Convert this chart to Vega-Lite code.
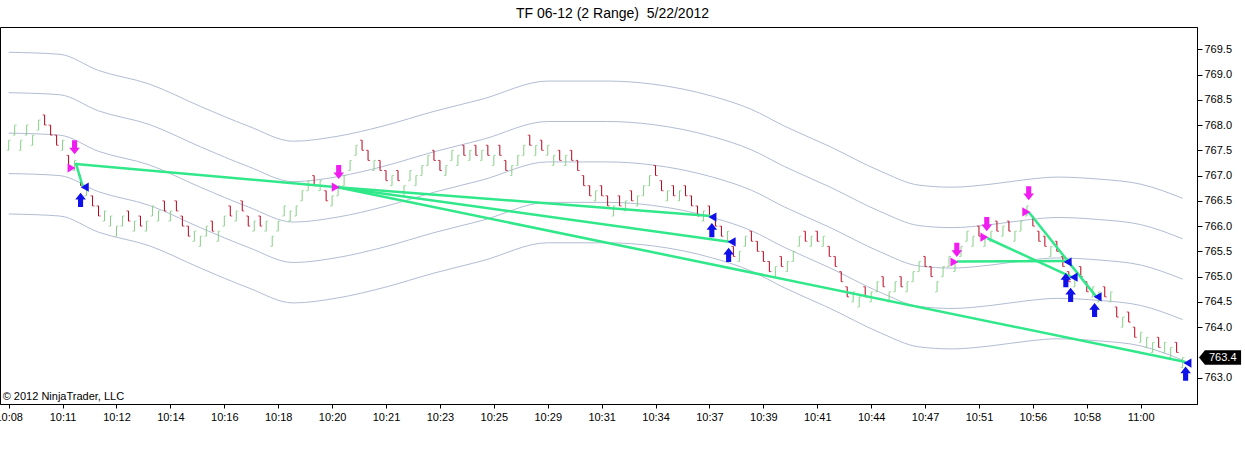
{
  "$schema": "https://vega.github.io/schema/vega-lite/v6.json",
  "width": 1197,
  "height": 377,
  "autosize": {"type": "none"},
  "padding": {"left": 0, "top": 27, "right": 48, "bottom": 47},
  "background": "#ffffff",
  "title": {
    "text": "TF 06-12 (2 Range)\u00a0 5/22/2012",
    "font": "Liberation Sans",
    "fontSize": 14,
    "fontWeight": "normal",
    "color": "#000000",
    "anchor": "middle",
    "offset": 6,
    "dx": 14
  },
  "config": {
    "view": {"stroke": "#000000", "strokeWidth": 1},
    "font": "Liberation Sans",
    "axis": {
      "labelFont": "Liberation Sans",
      "labelFontSize": 11,
      "labelColor": "#000000",
      "domainColor": "#000000",
      "tickColor": "#000000",
      "grid": false,
      "title": null
    },
    "axisY": {"labelOverlap": false}
  },
  "datasets": {
    "bands": [
      {"i": 0, "u2": 769.44, "u1": 768.64, "m": 767.84, "d1": 767.04, "d2": 766.24},
      {"i": 8.5, "u2": 769.40, "u1": 768.60, "m": 767.80, "d1": 767.00, "d2": 766.20},
      {"i": 15, "u2": 769.08, "u1": 768.28, "m": 767.48, "d1": 766.68, "d2": 765.88},
      {"i": 23.5, "u2": 768.81, "u1": 768.01, "m": 767.21, "d1": 766.41, "d2": 765.61},
      {"i": 32, "u2": 768.37, "u1": 767.57, "m": 766.77, "d1": 765.97, "d2": 765.17},
      {"i": 40, "u2": 767.98, "u1": 767.18, "m": 766.38, "d1": 765.58, "d2": 764.78},
      {"i": 47.5, "u2": 767.68, "u1": 766.88, "m": 766.08, "d1": 765.28, "d2": 764.48},
      {"i": 55, "u2": 767.78, "u1": 766.98, "m": 766.18, "d1": 765.38, "d2": 764.58},
      {"i": 62.5, "u2": 767.98, "u1": 767.18, "m": 766.38, "d1": 765.58, "d2": 764.78},
      {"i": 71, "u2": 768.27, "u1": 767.47, "m": 766.67, "d1": 765.87, "d2": 765.07},
      {"i": 79, "u2": 768.51, "u1": 767.71, "m": 766.91, "d1": 766.11, "d2": 765.31},
      {"i": 90, "u2": 768.87, "u1": 768.07, "m": 767.27, "d1": 766.47, "d2": 765.67},
      {"i": 100, "u2": 768.87, "u1": 768.07, "m": 767.27, "d1": 766.47, "d2": 765.67},
      {"i": 107.5, "u2": 768.81, "u1": 768.01, "m": 767.21, "d1": 766.41, "d2": 765.61},
      {"i": 117.5, "u2": 768.57, "u1": 767.77, "m": 766.97, "d1": 766.17, "d2": 765.37},
      {"i": 124, "u2": 768.31, "u1": 767.51, "m": 766.71, "d1": 765.91, "d2": 765.11},
      {"i": 129.5, "u2": 767.98, "u1": 767.18, "m": 766.38, "d1": 765.58, "d2": 764.78},
      {"i": 137, "u2": 767.58, "u1": 766.78, "m": 765.98, "d1": 765.18, "d2": 764.38},
      {"i": 145.5, "u2": 767.09, "u1": 766.29, "m": 765.49, "d1": 764.69, "d2": 763.89},
      {"i": 152, "u2": 766.81, "u1": 766.01, "m": 765.21, "d1": 764.41, "d2": 763.61},
      {"i": 157.5, "u2": 766.77, "u1": 765.97, "m": 765.17, "d1": 764.37, "d2": 763.57},
      {"i": 164, "u2": 766.83, "u1": 766.03, "m": 765.23, "d1": 764.43, "d2": 763.63},
      {"i": 170.5, "u2": 766.93, "u1": 766.13, "m": 765.33, "d1": 764.53, "d2": 763.73},
      {"i": 175, "u2": 766.97, "u1": 766.17, "m": 765.37, "d1": 764.57, "d2": 763.77},
      {"i": 182, "u2": 766.93, "u1": 766.13, "m": 765.33, "d1": 764.53, "d2": 763.73},
      {"i": 189, "u2": 766.83, "u1": 766.03, "m": 765.23, "d1": 764.43, "d2": 763.63},
      {"i": 196, "u2": 766.55, "u1": 765.75, "m": 764.95, "d1": 764.15, "d2": 763.35}
    ],
    "bars": [
      {"i": 0, "o": 767.5, "h": 767.7, "l": 767.5, "c": 767.7, "d": "u"},
      {"i": 1, "o": 767.8, "h": 768.0, "l": 767.8, "c": 768.0, "d": "u"},
      {"i": 2, "o": 767.5, "h": 767.7, "l": 767.5, "c": 767.7, "d": "u"},
      {"i": 3, "o": 767.8, "h": 768.0, "l": 767.8, "c": 768.0, "d": "u"},
      {"i": 4, "o": 767.6, "h": 767.8, "l": 767.6, "c": 767.8, "d": "u"},
      {"i": 5, "o": 767.9, "h": 768.1, "l": 767.9, "c": 768.1, "d": "u"},
      {"i": 6, "o": 768.2, "h": 768.2, "l": 768.0, "c": 768.0, "d": "d"},
      {"i": 7, "o": 768.0, "h": 768.0, "l": 767.8, "c": 767.8, "d": "d"},
      {"i": 8, "o": 767.8, "h": 767.8, "l": 767.6, "c": 767.6, "d": "d"},
      {"i": 9, "o": 767.5, "h": 767.7, "l": 767.5, "c": 767.7, "d": "u"},
      {"i": 10, "o": 767.4, "h": 767.4, "l": 767.2, "c": 767.2, "d": "d"},
      {"i": 11, "o": 767.1, "h": 767.3, "l": 767.1, "c": 767.3, "d": "u"},
      {"i": 12, "o": 767.0, "h": 767.0, "l": 766.8, "c": 766.8, "d": "d"},
      {"i": 13, "o": 766.6, "h": 766.8, "l": 766.6, "c": 766.8, "d": "u"},
      {"i": 14, "o": 766.6, "h": 766.6, "l": 766.4, "c": 766.4, "d": "d"},
      {"i": 15, "o": 766.4, "h": 766.4, "l": 766.2, "c": 766.2, "d": "d"},
      {"i": 16, "o": 766.1, "h": 766.3, "l": 766.1, "c": 766.3, "d": "u"},
      {"i": 17, "o": 766.0, "h": 766.2, "l": 766.0, "c": 766.2, "d": "u"},
      {"i": 18, "o": 765.8, "h": 766.0, "l": 765.8, "c": 766.0, "d": "u"},
      {"i": 19, "o": 766.0, "h": 766.2, "l": 766.0, "c": 766.2, "d": "u"},
      {"i": 20, "o": 766.3, "h": 766.3, "l": 766.1, "c": 766.1, "d": "d"},
      {"i": 21, "o": 765.9, "h": 766.1, "l": 765.9, "c": 766.1, "d": "u"},
      {"i": 22, "o": 766.2, "h": 766.2, "l": 766.0, "c": 766.0, "d": "d"},
      {"i": 23, "o": 765.9, "h": 766.1, "l": 765.9, "c": 766.1, "d": "u"},
      {"i": 24, "o": 766.2, "h": 766.4, "l": 766.2, "c": 766.4, "d": "u"},
      {"i": 25, "o": 766.1, "h": 766.3, "l": 766.1, "c": 766.3, "d": "u"},
      {"i": 26, "o": 766.5, "h": 766.5, "l": 766.3, "c": 766.3, "d": "d"},
      {"i": 27, "o": 766.1, "h": 766.3, "l": 766.1, "c": 766.3, "d": "u"},
      {"i": 28, "o": 766.5, "h": 766.5, "l": 766.3, "c": 766.3, "d": "d"},
      {"i": 29, "o": 766.2, "h": 766.2, "l": 766.0, "c": 766.0, "d": "d"},
      {"i": 30, "o": 766.0, "h": 766.0, "l": 765.8, "c": 765.8, "d": "d"},
      {"i": 31, "o": 765.7, "h": 765.9, "l": 765.7, "c": 765.9, "d": "u"},
      {"i": 32, "o": 765.6, "h": 765.8, "l": 765.6, "c": 765.8, "d": "u"},
      {"i": 33, "o": 765.8, "h": 766.0, "l": 765.8, "c": 766.0, "d": "u"},
      {"i": 34, "o": 766.1, "h": 766.1, "l": 765.9, "c": 765.9, "d": "d"},
      {"i": 35, "o": 765.7, "h": 765.9, "l": 765.7, "c": 765.9, "d": "u"},
      {"i": 36, "o": 766.0, "h": 766.2, "l": 766.0, "c": 766.2, "d": "u"},
      {"i": 37, "o": 766.4, "h": 766.4, "l": 766.2, "c": 766.2, "d": "d"},
      {"i": 38, "o": 766.1, "h": 766.3, "l": 766.1, "c": 766.3, "d": "u"},
      {"i": 39, "o": 766.5, "h": 766.5, "l": 766.3, "c": 766.3, "d": "d"},
      {"i": 40, "o": 766.2, "h": 766.2, "l": 766.0, "c": 766.0, "d": "d"},
      {"i": 41, "o": 765.9, "h": 766.1, "l": 765.9, "c": 766.1, "d": "u"},
      {"i": 42, "o": 766.2, "h": 766.2, "l": 766.0, "c": 766.0, "d": "d"},
      {"i": 43, "o": 765.9, "h": 766.1, "l": 765.9, "c": 766.1, "d": "u"},
      {"i": 44, "o": 765.6, "h": 765.8, "l": 765.6, "c": 765.8, "d": "u"},
      {"i": 45, "o": 765.9, "h": 766.1, "l": 765.9, "c": 766.1, "d": "u"},
      {"i": 46, "o": 766.2, "h": 766.4, "l": 766.2, "c": 766.4, "d": "u"},
      {"i": 47, "o": 766.1, "h": 766.3, "l": 766.1, "c": 766.3, "d": "u"},
      {"i": 48, "o": 766.2, "h": 766.4, "l": 766.2, "c": 766.4, "d": "u"},
      {"i": 49, "o": 766.5, "h": 766.7, "l": 766.5, "c": 766.7, "d": "u"},
      {"i": 50, "o": 766.7, "h": 766.9, "l": 766.7, "c": 766.9, "d": "u"},
      {"i": 51, "o": 767.0, "h": 767.0, "l": 766.8, "c": 766.8, "d": "d"},
      {"i": 52, "o": 766.7, "h": 766.9, "l": 766.7, "c": 766.9, "d": "u"},
      {"i": 53, "o": 766.7, "h": 766.7, "l": 766.5, "c": 766.5, "d": "d"},
      {"i": 54, "o": 766.4, "h": 766.6, "l": 766.4, "c": 766.6, "d": "u"},
      {"i": 55, "o": 766.6, "h": 766.8, "l": 766.6, "c": 766.8, "d": "u"},
      {"i": 56, "o": 766.8, "h": 767.0, "l": 766.8, "c": 767.0, "d": "u"},
      {"i": 57, "o": 767.1, "h": 767.3, "l": 767.1, "c": 767.3, "d": "u"},
      {"i": 58, "o": 767.4, "h": 767.6, "l": 767.4, "c": 767.6, "d": "u"},
      {"i": 59, "o": 767.7, "h": 767.7, "l": 767.5, "c": 767.5, "d": "d"},
      {"i": 60, "o": 767.5, "h": 767.5, "l": 767.3, "c": 767.3, "d": "d"},
      {"i": 61, "o": 767.1, "h": 767.3, "l": 767.1, "c": 767.3, "d": "u"},
      {"i": 62, "o": 767.3, "h": 767.3, "l": 767.1, "c": 767.1, "d": "d"},
      {"i": 63, "o": 767.1, "h": 767.1, "l": 766.9, "c": 766.9, "d": "d"},
      {"i": 64, "o": 766.8, "h": 767.0, "l": 766.8, "c": 767.0, "d": "u"},
      {"i": 65, "o": 767.1, "h": 767.1, "l": 766.9, "c": 766.9, "d": "d"},
      {"i": 66, "o": 766.6, "h": 766.8, "l": 766.6, "c": 766.8, "d": "u"},
      {"i": 67, "o": 766.9, "h": 767.1, "l": 766.9, "c": 767.1, "d": "u"},
      {"i": 68, "o": 766.8, "h": 767.0, "l": 766.8, "c": 767.0, "d": "u"},
      {"i": 69, "o": 767.0, "h": 767.2, "l": 767.0, "c": 767.2, "d": "u"},
      {"i": 70, "o": 767.2, "h": 767.4, "l": 767.2, "c": 767.4, "d": "u"},
      {"i": 71, "o": 767.5, "h": 767.5, "l": 767.3, "c": 767.3, "d": "d"},
      {"i": 72, "o": 767.3, "h": 767.3, "l": 767.1, "c": 767.1, "d": "d"},
      {"i": 73, "o": 767.0, "h": 767.2, "l": 767.0, "c": 767.2, "d": "u"},
      {"i": 74, "o": 767.3, "h": 767.5, "l": 767.3, "c": 767.5, "d": "u"},
      {"i": 75, "o": 767.2, "h": 767.4, "l": 767.2, "c": 767.4, "d": "u"},
      {"i": 76, "o": 767.6, "h": 767.6, "l": 767.4, "c": 767.4, "d": "d"},
      {"i": 77, "o": 767.3, "h": 767.5, "l": 767.3, "c": 767.5, "d": "u"},
      {"i": 78, "o": 767.6, "h": 767.6, "l": 767.4, "c": 767.4, "d": "d"},
      {"i": 79, "o": 767.3, "h": 767.5, "l": 767.3, "c": 767.5, "d": "u"},
      {"i": 80, "o": 767.6, "h": 767.6, "l": 767.4, "c": 767.4, "d": "d"},
      {"i": 81, "o": 767.2, "h": 767.4, "l": 767.2, "c": 767.4, "d": "u"},
      {"i": 82, "o": 767.6, "h": 767.6, "l": 767.4, "c": 767.4, "d": "d"},
      {"i": 83, "o": 767.3, "h": 767.3, "l": 767.1, "c": 767.1, "d": "d"},
      {"i": 84, "o": 767.0, "h": 767.2, "l": 767.0, "c": 767.2, "d": "u"},
      {"i": 85, "o": 767.2, "h": 767.4, "l": 767.2, "c": 767.4, "d": "u"},
      {"i": 86, "o": 767.4, "h": 767.6, "l": 767.4, "c": 767.6, "d": "u"},
      {"i": 87, "o": 767.8, "h": 767.8, "l": 767.6, "c": 767.6, "d": "d"},
      {"i": 88, "o": 767.4, "h": 767.6, "l": 767.4, "c": 767.6, "d": "u"},
      {"i": 89, "o": 767.7, "h": 767.7, "l": 767.5, "c": 767.5, "d": "d"},
      {"i": 90, "o": 767.4, "h": 767.6, "l": 767.4, "c": 767.6, "d": "u"},
      {"i": 91, "o": 767.2, "h": 767.4, "l": 767.2, "c": 767.4, "d": "u"},
      {"i": 92, "o": 767.5, "h": 767.5, "l": 767.3, "c": 767.3, "d": "d"},
      {"i": 93, "o": 767.2, "h": 767.4, "l": 767.2, "c": 767.4, "d": "u"},
      {"i": 94, "o": 767.5, "h": 767.5, "l": 767.3, "c": 767.3, "d": "d"},
      {"i": 95, "o": 767.3, "h": 767.3, "l": 767.1, "c": 767.1, "d": "d"},
      {"i": 96, "o": 767.0, "h": 767.0, "l": 766.8, "c": 766.8, "d": "d"},
      {"i": 97, "o": 766.8, "h": 766.8, "l": 766.6, "c": 766.6, "d": "d"},
      {"i": 98, "o": 766.5, "h": 766.7, "l": 766.5, "c": 766.7, "d": "u"},
      {"i": 99, "o": 766.8, "h": 766.8, "l": 766.6, "c": 766.6, "d": "d"},
      {"i": 100, "o": 766.6, "h": 766.6, "l": 766.4, "c": 766.4, "d": "d"},
      {"i": 101, "o": 766.2, "h": 766.4, "l": 766.2, "c": 766.4, "d": "u"},
      {"i": 102, "o": 766.6, "h": 766.6, "l": 766.4, "c": 766.4, "d": "d"},
      {"i": 103, "o": 766.3, "h": 766.5, "l": 766.3, "c": 766.5, "d": "u"},
      {"i": 104, "o": 766.7, "h": 766.7, "l": 766.5, "c": 766.5, "d": "d"},
      {"i": 105, "o": 766.4, "h": 766.6, "l": 766.4, "c": 766.6, "d": "u"},
      {"i": 106, "o": 766.6, "h": 766.8, "l": 766.6, "c": 766.8, "d": "u"},
      {"i": 107, "o": 766.8, "h": 767.0, "l": 766.8, "c": 767.0, "d": "u"},
      {"i": 108, "o": 767.2, "h": 767.2, "l": 767.0, "c": 767.0, "d": "d"},
      {"i": 109, "o": 766.9, "h": 766.9, "l": 766.7, "c": 766.7, "d": "d"},
      {"i": 110, "o": 766.5, "h": 766.7, "l": 766.5, "c": 766.7, "d": "u"},
      {"i": 111, "o": 766.8, "h": 766.8, "l": 766.6, "c": 766.6, "d": "d"},
      {"i": 112, "o": 766.5, "h": 766.7, "l": 766.5, "c": 766.7, "d": "u"},
      {"i": 113, "o": 766.8, "h": 766.8, "l": 766.6, "c": 766.6, "d": "d"},
      {"i": 114, "o": 766.6, "h": 766.6, "l": 766.4, "c": 766.4, "d": "d"},
      {"i": 115, "o": 766.4, "h": 766.4, "l": 766.2, "c": 766.2, "d": "d"},
      {"i": 116, "o": 766.1, "h": 766.3, "l": 766.1, "c": 766.3, "d": "u"},
      {"i": 117, "o": 766.4, "h": 766.4, "l": 766.2, "c": 766.2, "d": "d"},
      {"i": 118, "o": 766.2, "h": 766.2, "l": 766.0, "c": 766.0, "d": "d"},
      {"i": 119, "o": 766.0, "h": 766.0, "l": 765.8, "c": 765.8, "d": "d"},
      {"i": 120, "o": 765.7, "h": 765.9, "l": 765.7, "c": 765.9, "d": "u"},
      {"i": 121, "o": 765.6, "h": 765.6, "l": 765.4, "c": 765.4, "d": "d"},
      {"i": 122, "o": 765.3, "h": 765.5, "l": 765.3, "c": 765.5, "d": "u"},
      {"i": 123, "o": 765.6, "h": 765.8, "l": 765.6, "c": 765.8, "d": "u"},
      {"i": 124, "o": 765.9, "h": 765.9, "l": 765.7, "c": 765.7, "d": "d"},
      {"i": 125, "o": 765.7, "h": 765.7, "l": 765.5, "c": 765.5, "d": "d"},
      {"i": 126, "o": 765.5, "h": 765.5, "l": 765.3, "c": 765.3, "d": "d"},
      {"i": 127, "o": 765.3, "h": 765.3, "l": 765.1, "c": 765.1, "d": "d"},
      {"i": 128, "o": 765.0, "h": 765.2, "l": 765.0, "c": 765.2, "d": "u"},
      {"i": 129, "o": 765.4, "h": 765.4, "l": 765.2, "c": 765.2, "d": "d"},
      {"i": 130, "o": 765.1, "h": 765.3, "l": 765.1, "c": 765.3, "d": "u"},
      {"i": 131, "o": 765.3, "h": 765.5, "l": 765.3, "c": 765.5, "d": "u"},
      {"i": 132, "o": 765.6, "h": 765.8, "l": 765.6, "c": 765.8, "d": "u"},
      {"i": 133, "o": 765.9, "h": 765.9, "l": 765.7, "c": 765.7, "d": "d"},
      {"i": 134, "o": 765.6, "h": 765.8, "l": 765.6, "c": 765.8, "d": "u"},
      {"i": 135, "o": 765.9, "h": 765.9, "l": 765.7, "c": 765.7, "d": "d"},
      {"i": 136, "o": 765.6, "h": 765.8, "l": 765.6, "c": 765.8, "d": "u"},
      {"i": 137, "o": 765.6, "h": 765.6, "l": 765.4, "c": 765.4, "d": "d"},
      {"i": 138, "o": 765.4, "h": 765.4, "l": 765.2, "c": 765.2, "d": "d"},
      {"i": 139, "o": 765.1, "h": 765.1, "l": 764.9, "c": 764.9, "d": "d"},
      {"i": 140, "o": 764.8, "h": 764.8, "l": 764.6, "c": 764.6, "d": "d"},
      {"i": 141, "o": 764.5, "h": 764.7, "l": 764.5, "c": 764.7, "d": "u"},
      {"i": 142, "o": 764.4, "h": 764.6, "l": 764.4, "c": 764.6, "d": "u"},
      {"i": 143, "o": 764.8, "h": 764.8, "l": 764.6, "c": 764.6, "d": "d"},
      {"i": 144, "o": 764.5, "h": 764.7, "l": 764.5, "c": 764.7, "d": "u"},
      {"i": 145, "o": 764.7, "h": 764.9, "l": 764.7, "c": 764.9, "d": "u"},
      {"i": 146, "o": 765.0, "h": 765.0, "l": 764.8, "c": 764.8, "d": "d"},
      {"i": 147, "o": 764.5, "h": 764.7, "l": 764.5, "c": 764.7, "d": "u"},
      {"i": 148, "o": 764.7, "h": 764.9, "l": 764.7, "c": 764.9, "d": "u"},
      {"i": 149, "o": 765.0, "h": 765.0, "l": 764.8, "c": 764.8, "d": "d"},
      {"i": 150, "o": 764.7, "h": 764.9, "l": 764.7, "c": 764.9, "d": "u"},
      {"i": 151, "o": 764.9, "h": 765.1, "l": 764.9, "c": 765.1, "d": "u"},
      {"i": 152, "o": 765.1, "h": 765.3, "l": 765.1, "c": 765.3, "d": "u"},
      {"i": 153, "o": 765.4, "h": 765.4, "l": 765.2, "c": 765.2, "d": "d"},
      {"i": 154, "o": 765.2, "h": 765.2, "l": 765.0, "c": 765.0, "d": "d"},
      {"i": 155, "o": 764.7, "h": 764.9, "l": 764.7, "c": 764.9, "d": "u"},
      {"i": 156, "o": 765.0, "h": 765.2, "l": 765.0, "c": 765.2, "d": "u"},
      {"i": 157, "o": 765.2, "h": 765.4, "l": 765.2, "c": 765.4, "d": "u"},
      {"i": 158, "o": 765.1, "h": 765.3, "l": 765.1, "c": 765.3, "d": "u"},
      {"i": 159, "o": 765.4, "h": 765.6, "l": 765.4, "c": 765.6, "d": "u"},
      {"i": 160, "o": 765.7, "h": 765.9, "l": 765.7, "c": 765.9, "d": "u"},
      {"i": 161, "o": 765.6, "h": 765.8, "l": 765.6, "c": 765.8, "d": "u"},
      {"i": 162, "o": 766.0, "h": 766.0, "l": 765.8, "c": 765.8, "d": "d"},
      {"i": 163, "o": 765.6, "h": 765.8, "l": 765.6, "c": 765.8, "d": "u"},
      {"i": 164, "o": 765.7, "h": 765.9, "l": 765.7, "c": 765.9, "d": "u"},
      {"i": 165, "o": 766.1, "h": 766.1, "l": 765.9, "c": 765.9, "d": "d"},
      {"i": 166, "o": 765.8, "h": 766.0, "l": 765.8, "c": 766.0, "d": "u"},
      {"i": 167, "o": 766.1, "h": 766.1, "l": 765.9, "c": 765.9, "d": "d"},
      {"i": 168, "o": 765.7, "h": 765.9, "l": 765.7, "c": 765.9, "d": "u"},
      {"i": 169, "o": 765.9, "h": 766.1, "l": 765.9, "c": 766.1, "d": "u"},
      {"i": 170, "o": 766.2, "h": 766.4, "l": 766.2, "c": 766.4, "d": "u"},
      {"i": 171, "o": 766.2, "h": 766.2, "l": 766.0, "c": 766.0, "d": "d"},
      {"i": 172, "o": 765.9, "h": 765.9, "l": 765.7, "c": 765.7, "d": "d"},
      {"i": 173, "o": 765.8, "h": 765.8, "l": 765.6, "c": 765.6, "d": "d"},
      {"i": 174, "o": 765.4, "h": 765.6, "l": 765.4, "c": 765.6, "d": "u"},
      {"i": 175, "o": 765.7, "h": 765.7, "l": 765.5, "c": 765.5, "d": "d"},
      {"i": 176, "o": 765.4, "h": 765.4, "l": 765.2, "c": 765.2, "d": "d"},
      {"i": 177, "o": 765.1, "h": 765.1, "l": 764.9, "c": 764.9, "d": "d"},
      {"i": 178, "o": 764.8, "h": 765.0, "l": 764.8, "c": 765.0, "d": "u"},
      {"i": 179, "o": 765.2, "h": 765.2, "l": 765.0, "c": 765.0, "d": "d"},
      {"i": 180, "o": 764.9, "h": 764.9, "l": 764.7, "c": 764.7, "d": "d"},
      {"i": 181, "o": 764.6, "h": 764.8, "l": 764.6, "c": 764.8, "d": "u"},
      {"i": 182, "o": 764.5, "h": 764.7, "l": 764.5, "c": 764.7, "d": "u"},
      {"i": 183, "o": 764.8, "h": 764.8, "l": 764.6, "c": 764.6, "d": "d"},
      {"i": 184, "o": 764.5, "h": 764.7, "l": 764.5, "c": 764.7, "d": "u"},
      {"i": 185, "o": 764.4, "h": 764.4, "l": 764.2, "c": 764.2, "d": "d"},
      {"i": 186, "o": 764.0, "h": 764.2, "l": 764.0, "c": 764.2, "d": "u"},
      {"i": 187, "o": 764.3, "h": 764.3, "l": 764.1, "c": 764.1, "d": "d"},
      {"i": 188, "o": 764.0, "h": 764.0, "l": 763.8, "c": 763.8, "d": "d"},
      {"i": 189, "o": 763.7, "h": 763.9, "l": 763.7, "c": 763.9, "d": "u"},
      {"i": 190, "o": 763.6, "h": 763.8, "l": 763.6, "c": 763.8, "d": "u"},
      {"i": 191, "o": 763.5, "h": 763.7, "l": 763.5, "c": 763.7, "d": "u"},
      {"i": 192, "o": 763.8, "h": 763.8, "l": 763.6, "c": 763.6, "d": "d"},
      {"i": 193, "o": 763.5, "h": 763.7, "l": 763.5, "c": 763.7, "d": "u"},
      {"i": 194, "o": 763.4, "h": 763.6, "l": 763.4, "c": 763.6, "d": "u"},
      {"i": 195, "o": 763.7, "h": 763.7, "l": 763.5, "c": 763.5, "d": "d"},
      {"i": 196, "o": 763.2, "h": 763.4, "l": 763.2, "c": 763.4, "d": "u"}
    ],
    "trades": [
      {"t": "A", "i": 11.2, "p": 767.25},
      {"t": "A", "i": 12.35, "p": 766.79},
      {"t": "B", "i": 11.2, "p": 767.23},
      {"t": "B", "i": 54.9, "p": 766.77},
      {"t": "C", "i": 54.9, "p": 766.77},
      {"t": "C", "i": 117.2, "p": 766.2},
      {"t": "D", "i": 54.9, "p": 766.77},
      {"t": "D", "i": 120.3, "p": 765.69},
      {"t": "E", "i": 54.9, "p": 766.77},
      {"t": "E", "i": 196.5, "p": 763.31},
      {"t": "F", "i": 158.3, "p": 765.3},
      {"t": "F", "i": 176.5, "p": 765.31},
      {"t": "G", "i": 163.4, "p": 765.76},
      {"t": "G", "i": 177.5, "p": 764.99},
      {"t": "H", "i": 170.3, "p": 766.28},
      {"t": "H", "i": 181.6, "p": 764.6}
    ],
    "sigs": [
      {"k": "sd", "i": 11.0, "p": 767.56},
      {"k": "sd", "i": 55.1, "p": 767.07},
      {"k": "sd", "i": 158.3, "p": 765.53},
      {"k": "sd", "i": 163.3, "p": 766.04},
      {"k": "sd", "i": 170.3, "p": 766.65},
      {"k": "st", "i": 10.5, "p": 767.15},
      {"k": "st", "i": 54.6, "p": 766.77},
      {"k": "st", "i": 157.9, "p": 765.29},
      {"k": "st", "i": 162.9, "p": 765.78},
      {"k": "st", "i": 169.9, "p": 766.28},
      {"k": "bt", "i": 12.7, "p": 766.77},
      {"k": "bt", "i": 117.5, "p": 766.18},
      {"k": "bt", "i": 120.7, "p": 765.69},
      {"k": "bt", "i": 176.8, "p": 765.29},
      {"k": "bt", "i": 177.8, "p": 764.99},
      {"k": "bt", "i": 181.8, "p": 764.6},
      {"k": "bt", "i": 196.8, "p": 763.29},
      {"k": "bu", "i": 12.0, "p": 766.52},
      {"k": "bu", "i": 117.4, "p": 765.92},
      {"k": "bu", "i": 120.2, "p": 765.43},
      {"k": "bu", "i": 176.5, "p": 764.93},
      {"k": "bu", "i": 177.3, "p": 764.64},
      {"k": "bu", "i": 181.3, "p": 764.34},
      {"k": "bu", "i": 196.5, "p": 763.08}
    ],
    "last": [{"p": 763.4}]
  },
  "layer": [
    {
      "data": {"name": "bands"},
      "transform": [{"fold": ["u2", "u1", "m", "d1", "d2"], "as": ["band", "v"]}],
      "mark": {"type": "line", "interpolate": "monotone", "strokeWidth": 1, "color": "#b2bdd2"},
      "encoding": {
        "x": {
          "field": "i", "type": "quantitative",
          "scale": {"domain": [-1.45, 198.4], "nice": false, "zero": false},
          "axis": {
            "orient": "bottom",
            "values": [0, 9, 18, 27, 36, 45, 54, 63, 72, 81, 90, 99, 108, 117, 126, 135, 144, 153, 162, 171, 180, 189],
            "labelExpr": "['10:08','10:11','10:12','10:14','10:16','10:18','10:20','10:21','10:23','10:25','10:29','10:31','10:34','10:37','10:39','10:41','10:44','10:47','10:51','10:56','10:58','11:00'][round(datum.value/9)]",
            "labelFlush": false,
            "labelOverlap": false,
            "tickSize": 4,
            "labelPadding": 3
          }
        },
        "y": {
          "field": "v", "type": "quantitative",
          "scale": {"domain": [762.48, 769.94], "nice": false, "zero": false},
          "axis": {"orient": "right", "values": [763, 764, 764.5, 765, 765.5, 766, 766.5, 767, 767.5, 768, 768.5, 769, 769.5], "format": ".1f", "labelOverlap": false, "tickSize": 5, "labelPadding": 2}
        },
        "detail": {"field": "band"}
      }
    },
    {
      "data": {"name": "bars"},
      "mark": {"type": "rule", "strokeWidth": 1},
      "encoding": {
        "x": {"field": "i", "type": "quantitative"},
        "y": {"field": "l", "type": "quantitative", "axis": {"orient": "right", "values": [763, 764, 764.5, 765, 765.5, 766, 766.5, 767, 767.5, 768, 768.5, 769, 769.5], "format": ".1f", "labelOverlap": false, "tickSize": 5, "labelPadding": 2}},
        "y2": {"field": "h"},
        "color": {"field": "d", "type": "nominal", "scale": {"domain": ["u", "d"], "range": ["#86cf86", "#b8001a"]}, "legend": null}
      }
    },
    {
      "data": {"name": "bars"},
      "mark": {"type": "tick", "orient": "horizontal", "size": 2, "thickness": 1, "xOffset": -1},
      "encoding": {
        "x": {"field": "i", "type": "quantitative"},
        "y": {"field": "o", "type": "quantitative", "axis": {"orient": "right", "values": [763, 764, 764.5, 765, 765.5, 766, 766.5, 767, 767.5, 768, 768.5, 769, 769.5], "format": ".1f", "labelOverlap": false, "tickSize": 5, "labelPadding": 2}},
        "color": {"field": "d", "type": "nominal", "legend": null}
      }
    },
    {
      "data": {"name": "bars"},
      "mark": {"type": "tick", "orient": "horizontal", "size": 2, "thickness": 1, "xOffset": 1},
      "encoding": {
        "x": {"field": "i", "type": "quantitative"},
        "y": {"field": "c", "type": "quantitative", "axis": {"orient": "right", "values": [763, 764, 764.5, 765, 765.5, 766, 766.5, 767, 767.5, 768, 768.5, 769, 769.5], "format": ".1f", "labelOverlap": false, "tickSize": 5, "labelPadding": 2}},
        "color": {"field": "d", "type": "nominal", "legend": null}
      }
    },
    {
      "data": {"name": "trades"},
      "mark": {"type": "line", "color": "#30e88a", "strokeWidth": 2.5},
      "encoding": {
        "x": {"field": "i", "type": "quantitative"},
        "y": {"field": "p", "type": "quantitative", "axis": {"orient": "right", "values": [763, 764, 764.5, 765, 765.5, 766, 766.5, 767, 767.5, 768, 768.5, 769, 769.5], "format": ".1f", "labelOverlap": false, "tickSize": 5, "labelPadding": 2}},
        "detail": {"field": "t"}
      }
    },
    {
      "data": {"name": "sigs"},
      "transform": [{"filter": "datum.k == 'st'"}],
      "mark": {"type": "point", "shape": "triangle-right", "filled": true, "size": 85, "color": "#f01cf0", "opacity": 1},
      "encoding": {
        "x": {"field": "i", "type": "quantitative"},
        "y": {"field": "p", "type": "quantitative", "axis": {"orient": "right", "values": [763, 764, 764.5, 765, 765.5, 766, 766.5, 767, 767.5, 768, 768.5, 769, 769.5], "format": ".1f", "labelOverlap": false, "tickSize": 5, "labelPadding": 2}}
      }
    },
    {
      "data": {"name": "sigs"},
      "transform": [{"filter": "datum.k == 'bt'"}],
      "mark": {"type": "point", "shape": "triangle-left", "filled": true, "size": 85, "color": "#1010e8", "opacity": 1},
      "encoding": {
        "x": {"field": "i", "type": "quantitative"},
        "y": {"field": "p", "type": "quantitative", "axis": {"orient": "right", "values": [763, 764, 764.5, 765, 765.5, 766, 766.5, 767, 767.5, 768, 768.5, 769, 769.5], "format": ".1f", "labelOverlap": false, "tickSize": 5, "labelPadding": 2}}
      }
    },
    {
      "data": {"name": "sigs"},
      "transform": [{"filter": "datum.k == 'sd'"}],
      "mark": {"type": "point", "shape": "M-0.36,-1H0.36V0.05H0.75L0,1L-0.75,0.05H-0.36Z", "filled": true, "size": 200, "color": "#f01cf0", "opacity": 1},
      "encoding": {
        "x": {"field": "i", "type": "quantitative"},
        "y": {"field": "p", "type": "quantitative", "axis": {"orient": "right", "values": [763, 764, 764.5, 765, 765.5, 766, 766.5, 767, 767.5, 768, 768.5, 769, 769.5], "format": ".1f", "labelOverlap": false, "tickSize": 5, "labelPadding": 2}}
      }
    },
    {
      "data": {"name": "sigs"},
      "transform": [{"filter": "datum.k == 'bu'"}],
      "mark": {"type": "point", "shape": "M-0.36,1H0.36V-0.05H0.75L0,-1L-0.75,-0.05H-0.36Z", "filled": true, "size": 200, "color": "#1010e8", "opacity": 1},
      "encoding": {
        "x": {"field": "i", "type": "quantitative"},
        "y": {"field": "p", "type": "quantitative", "axis": {"orient": "right", "values": [763, 764, 764.5, 765, 765.5, 766, 766.5, 767, 767.5, 768, 768.5, 769, 769.5], "format": ".1f", "labelOverlap": false, "tickSize": 5, "labelPadding": 2}}
      }
    },
    {
      "data": {"values": [{}]},
      "mark": {"type": "text", "align": "left", "baseline": "middle", "fontSize": 11, "font": "Liberation Sans", "color": "#000000"},
      "encoding": {
        "x": {"datum": -1.0, "type": "quantitative"},
        "y": {"datum": 762.62, "type": "quantitative", "axis": {"orient": "right", "values": [763, 764, 764.5, 765, 765.5, 766, 766.5, 767, 767.5, 768, 768.5, 769, 769.5], "format": ".1f", "labelOverlap": false, "tickSize": 5, "labelPadding": 2}},
        "text": {"value": "© 2012 NinjaTrader, LLC"}
      }
    },
    {
      "data": {"name": "last"},
      "mark": {"type": "point", "shape": "M-1,0L-0.72,-0.34H1V0.34H-0.72Z", "filled": true, "size": 1764, "color": "#000000", "opacity": 1, "clip": false},
      "encoding": {
        "x": {"datum": 202.25, "type": "quantitative"},
        "y": {"field": "p", "type": "quantitative", "axis": {"orient": "right", "values": [763, 764, 764.5, 765, 765.5, 766, 766.5, 767, 767.5, 768, 768.5, 769, 769.5], "format": ".1f", "labelOverlap": false, "tickSize": 5, "labelPadding": 2}}
      }
    },
    {
      "data": {"name": "last"},
      "mark": {"type": "text", "align": "center", "baseline": "middle", "fontSize": 11, "font": "Liberation Sans", "color": "#ffffff", "clip": false},
      "encoding": {
        "x": {"datum": 202.7, "type": "quantitative"},
        "y": {"field": "p", "type": "quantitative", "axis": {"orient": "right", "values": [763, 764, 764.5, 765, 765.5, 766, 766.5, 767, 767.5, 768, 768.5, 769, 769.5], "format": ".1f", "labelOverlap": false, "tickSize": 5, "labelPadding": 2}},
        "text": {"field": "p", "type": "quantitative", "format": ".1f"}
      }
    }
  ]
}
